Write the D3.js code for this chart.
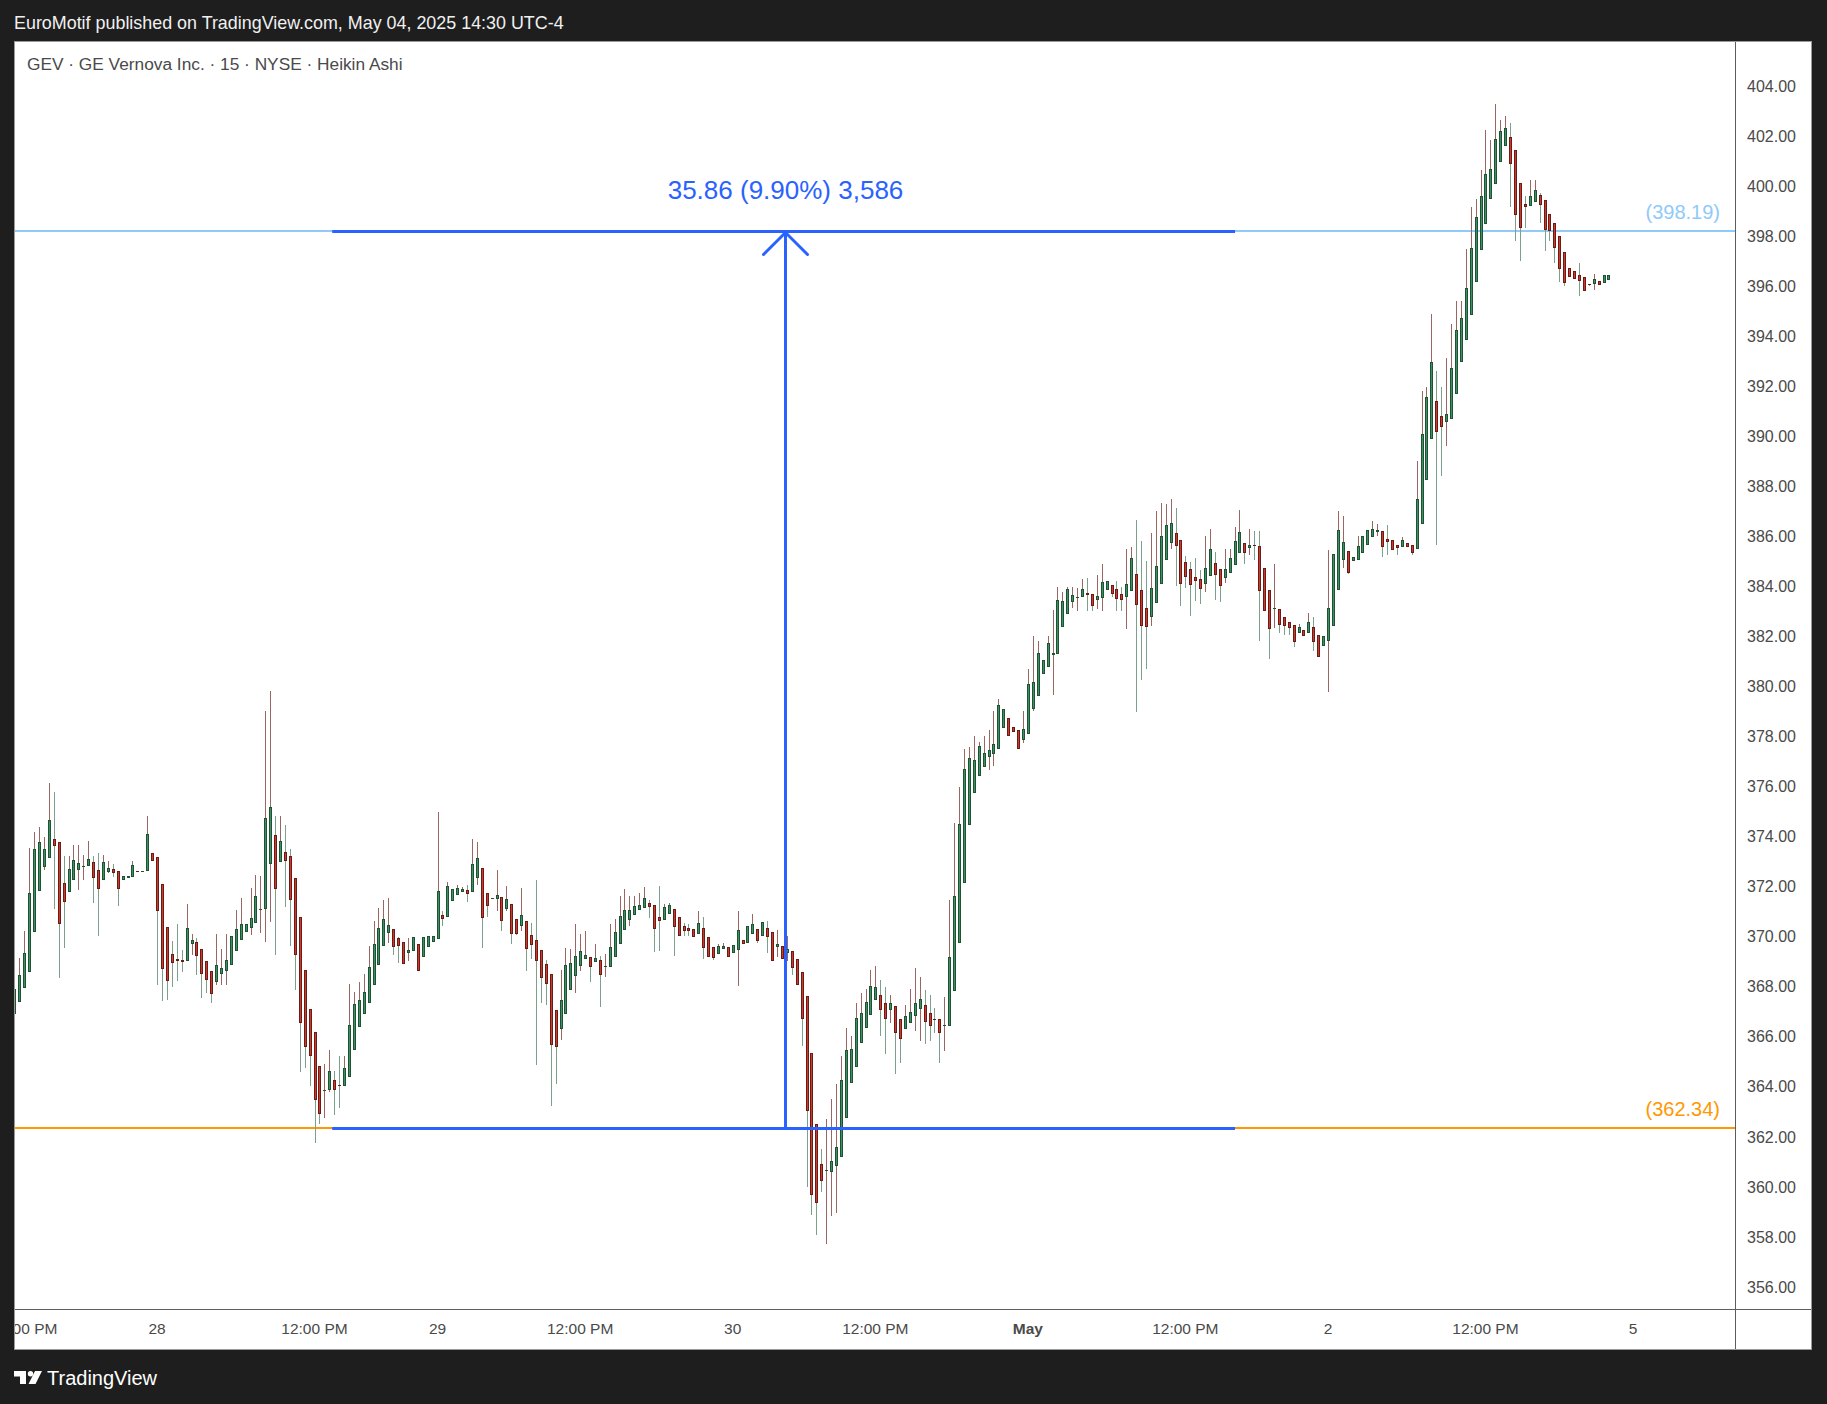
<!DOCTYPE html>
<html><head><meta charset="utf-8">
<script src="https://cdn.jsdelivr.net/npm/d3@7/dist/d3.min.js"></script>
<style>html,body{margin:0;padding:0;background:#1e1e1e;} svg{display:block;}</style>
</head><body>
<svg id="c" width="1827" height="1404"></svg>
<script>
// ---------- DATA (GEV 15m Heikin Ashi) ----------
const opens = [366.93,367.40,367.94,368.60,370.17,371.81,372.80,373.13,373.89,373.77,372.13,371.77,372.25,372.65,372.79,372.81,372.97,372.65,372.25,372.60,372.69,372.61,372.25,372.33,372.37,372.61,372.59,372.61,373.33,373.17,
372.09,370.37,369.30,369.10,369.06,369.02,369.70,369.77,369.49,369.02,368.62,368.18,368.50,368.62,368.86,369.42,369.85,370.17,370.33,370.53,371.08,371.09,372.89,374.05,372.97,373.37,373.21,372.33,370.77,368.66,
367.10,366.18,364.82,363.85,363.86,364.26,364.06,364.02,364.39,365.46,366.38,366.93,367.37,368.05,368.85,369.61,370.13,370.29,369.93,369.77,369.33,369.41,369.69,369.17,369.57,369.77,369.89,370.85,370.77,371.41,
371.65,371.77,371.85,371.77,372.33,372.73,371.73,371.52,371.49,371.57,371.09,371.29,370.69,370.41,370.61,370.05,369.85,369.45,368.89,368.49,367.09,366.33,366.93,367.89,368.41,368.81,369.09,369.17,368.97,369.05,
368.79,368.77,369.17,369.69,370.25,370.65,370.85,371.05,371.13,371.33,371.25,370.77,370.68,370.91,371.09,370.77,370.41,370.34,370.29,370.12,370.34,369.97,369.57,369.32,369.49,369.57,369.36,369.48,369.85,369.76,
370.09,370.29,370.04,370.34,370.18,369.57,369.61,369.36,369.41,369.10,368.58,367.65,365.34,362.50,360.93,360.64,360.61,360.85,361.20,362.77,364.14,364.81,365.77,366.36,366.89,367.46,367.69,367.37,367.06,367.22,
366.70,366.30,366.57,366.82,367.10,367.29,366.94,366.73,366.72,366.45,366.45,367.83,369.73,372.13,374.45,375.76,376.42,376.79,377.20,377.31,377.49,378.36,378.76,378.40,378.28,377.88,378.12,379.12,379.64,380.48,
380.76,381.24,381.28,382.36,382.88,383.36,383.52,383.56,383.72,383.68,383.44,383.52,383.84,384.04,383.88,383.68,383.56,383.80,384.48,383.84,383.12,382.76,383.32,384.08,385.04,385.72,386.12,385.84,384.96,384.68,
384.36,384.28,384.08,384.40,384.92,384.68,384.32,384.52,384.84,385.32,385.72,385.52,385.64,385.60,384.72,383.84,383.11,383.08,382.76,382.56,382.44,382.12,382.24,382.12,382.36,382.04,381.60,381.80,382.43,383.87,
385.05,385.40,385.00,385.05,385.35,385.67,385.97,386.16,386.20,385.89,385.84,385.67,385.59,385.73,385.64,385.48,386.49,388.27,389.90,391.43,390.80,390.58,390.71,391.70,392.98,393.84,394.86,396.17,397.46,398.50,
399.49,400.08,400.95,401.60,401.96,401.44,400.14,399.29,399.19,399.38,399.64,399.43,398.88,398.51,398.02,397.36,396.74,396.59,396.44,396.35,396.08,396.07,396.19,396.11,396.25];
const highs = [367.93,369.16,370.24,373.56,374.18,374.38,373.99,376.14,375.78,373.77,373.23,373.23,373.67,373.67,373.27,373.83,373.23,373.35,373.27,373.03,372.91,372.61,372.41,372.41,373.03,372.61,372.61,374.82,373.33,373.17,
372.09,370.37,369.83,370.49,369.47,371.32,370.09,369.96,369.49,369.02,368.62,370.09,369.49,370.09,370.01,371.07,371.53,370.49,371.93,372.45,372.41,379.02,379.82,374.82,374.82,374.46,373.51,372.33,370.77,368.66,
367.10,366.18,364.82,364.90,365.47,364.62,365.23,365.23,368.11,367.79,368.19,368.51,369.62,370.61,371.13,371.45,371.54,370.29,369.99,369.77,369.96,369.97,369.69,369.97,370.01,370.01,374.98,371.02,372.18,371.89,
372.06,372.00,372.06,373.90,373.78,372.73,371.73,371.54,372.66,371.57,372.02,371.29,370.69,371.94,370.61,370.53,372.26,369.45,369.06,368.49,367.09,368.66,369.54,369.50,370.49,370.10,370.22,369.17,369.69,369.21,
369.30,370.49,370.70,371.62,371.90,371.62,371.62,371.74,371.98,371.46,371.25,372.02,371.31,371.36,371.09,370.77,370.54,370.50,370.29,371.02,370.78,369.97,369.57,369.70,369.73,369.57,369.66,371.02,369.85,370.41,
370.91,370.29,370.60,370.62,370.18,370.25,369.61,370.03,369.41,369.10,368.58,367.65,365.34,362.50,361.51,362.71,363.51,364.11,365.22,366.35,366.04,367.35,367.75,367.91,368.67,368.83,368.28,368.00,367.66,367.22,
366.70,367.29,367.91,368.74,368.39,367.87,367.69,367.16,366.72,367.59,371.46,374.54,375.97,377.51,377.58,378.01,377.78,378.04,378.26,379.02,379.50,379.12,378.76,378.40,378.28,379.02,380.70,382.01,381.80,381.04,
382.01,383.05,383.97,383.77,383.97,383.97,383.93,384.29,384.33,383.68,384.45,384.89,384.20,384.04,384.21,383.97,385.49,385.57,386.65,385.81,385.01,386.13,387.01,387.33,387.29,387.49,387.13,385.84,385.21,384.97,
385.13,384.65,386.01,386.29,385.37,384.68,385.49,385.49,386.37,387.05,385.72,386.29,386.21,386.21,384.72,383.84,384.89,383.08,382.76,382.56,382.44,382.48,382.24,382.93,382.77,382.04,382.00,385.46,385.30,387.01,
386.82,385.40,385.19,386.01,386.01,386.25,386.63,386.50,386.20,386.46,385.84,385.67,385.98,385.73,385.64,389.02,391.81,391.99,394.88,392.59,391.99,393.13,394.48,395.40,395.40,397.49,399.15,399.48,400.65,402.24,
401.85,403.29,402.64,402.80,402.53,401.44,400.14,399.60,400.24,400.24,399.73,399.43,398.88,398.51,398.02,397.36,396.74,396.59,396.92,396.35,396.08,396.49,396.19,396.43,396.43];
const lows = [366.93,367.40,367.94,368.60,370.17,371.81,372.67,373.13,371.12,368.36,369.56,371.77,372.25,371.88,372.28,372.81,371.36,370.04,372.25,372.53,372.40,371.24,372.25,372.33,372.37,372.57,372.59,372.61,373.01,368.06,
367.44,367.48,368.00,368.22,368.58,369.02,369.26,368.46,367.56,367.74,367.34,368.06,368.06,368.06,368.86,369.42,369.85,370.17,370.05,370.53,370.13,369.77,370.57,369.26,372.97,371.20,369.62,367.86,364.58,364.77,
364.02,361.74,362.50,362.74,363.80,362.86,363.14,364.02,364.39,365.46,366.38,366.93,367.37,368.05,368.85,369.61,369.76,369.27,368.93,368.89,369.04,369.41,368.61,369.17,369.57,369.77,369.89,370.42,370.77,371.41,
371.65,371.77,371.37,371.77,372.05,369.53,370.77,371.52,371.04,370.24,371.04,369.72,370.05,370.21,368.64,369.09,364.88,367.36,367.28,363.24,364.12,365.89,366.93,367.89,367.77,368.61,369.09,368.17,368.97,367.20,
368.37,368.77,369.17,369.69,370.25,370.41,370.85,371.05,371.13,370.73,369.37,369.44,370.68,370.91,369.24,370.04,370.04,370.04,370.00,370.12,369.11,369.20,369.07,369.32,369.49,369.17,369.36,368.03,369.69,369.76,
370.09,369.76,370.04,369.35,369.02,369.17,369.10,369.02,368.46,368.06,365.62,360.00,358.89,358.08,359.78,357.71,358.85,358.97,361.20,362.77,364.14,364.81,365.77,366.36,366.89,367.46,366.04,365.33,366.55,364.53,
364.97,366.30,366.57,366.24,365.84,365.72,365.84,366.15,364.97,365.44,366.45,367.83,369.73,372.13,374.45,375.76,376.42,376.79,376.68,376.83,377.49,378.36,378.01,378.20,377.52,377.75,378.12,379.02,379.64,380.48,
380.76,379.67,381.28,382.36,382.88,383.15,383.03,383.56,383.03,383.03,383.08,383.03,383.84,383.59,383.03,383.03,382.31,383.80,378.99,380.27,380.71,382.43,383.32,384.08,385.04,385.51,384.01,383.21,383.92,382.81,
383.41,383.29,383.76,384.40,383.45,383.37,384.12,384.52,384.84,385.32,384.88,385.24,385.04,381.83,383.00,381.11,382.32,382.12,382.04,382.04,381.56,382.12,382.00,382.12,381.43,381.16,381.60,379.80,382.43,383.87,
384.72,384.50,385.00,385.05,385.35,385.67,385.97,386.01,385.19,385.24,385.45,385.24,385.59,385.59,385.26,385.48,386.49,388.27,389.90,385.67,388.43,389.63,390.71,391.70,392.98,393.84,394.86,396.17,397.46,398.50,
399.49,400.08,400.95,401.60,399.18,397.79,397.01,398.34,399.19,399.38,398.53,397.41,397.80,396.92,396.16,396.02,396.38,396.30,395.62,395.80,396.00,395.83,396.03,396.11,396.25];
const closes = [367.93,368.47,369.33,371.73,373.49,373.77,373.49,374.65,373.61,370.49,371.37,372.69,373.05,372.93,372.81,373.09,372.33,371.89,372.97,372.73,372.53,371.89,372.41,372.41,372.85,372.57,372.61,374.09,373.01,371.01,
368.70,368.22,368.94,369.02,368.98,370.33,369.85,369.22,368.50,368.26,367.70,368.86,368.74,369.06,370.01,370.29,370.49,370.49,370.73,371.61,371.10,374.73,375.17,371.89,373.81,373.01,371.45,369.26,366.54,365.58,
365.22,363.46,362.90,363.87,364.62,363.86,364.02,364.74,366.49,367.33,367.49,367.81,368.77,369.70,370.33,370.69,370.46,369.57,369.61,368.89,369.45,369.97,368.61,369.97,370.01,370.01,371.82,370.69,372.01,371.89,
371.93,371.89,371.69,372.89,373.13,370.73,371.21,371.54,371.65,370.61,371.49,370.09,370.09,370.85,369.49,369.65,369.01,368.33,368.09,365.69,365.61,367.49,368.85,368.93,369.21,369.41,369.25,368.77,369.13,368.45,
368.81,369.57,370.17,370.81,371.05,371.05,371.21,371.25,371.53,371.17,370.29,370.61,371.18,371.27,370.40,370.04,370.23,370.23,370.00,370.53,369.55,369.20,369.13,369.61,369.61,369.17,369.66,370.25,369.69,370.41,
370.50,369.81,370.60,369.97,369.02,369.70,369.10,369.49,368.73,368.06,366.73,363.02,359.66,359.37,360.25,360.67,361.05,361.61,364.29,365.49,365.53,366.75,366.97,367.38,368.02,367.99,367.06,366.73,367.35,366.17,
365.92,366.85,367.01,367.37,367.53,366.58,366.45,366.71,366.14,366.47,369.17,371.61,374.52,376.71,377.13,377.05,377.61,377.36,377.45,377.69,379.28,379.12,378.01,378.20,377.52,378.32,380.08,380.16,381.32,381.04,
381.72,381.32,383.44,383.40,383.88,383.64,383.56,383.88,383.64,383.20,383.60,384.16,384.20,383.68,383.48,383.44,384.08,385.12,383.24,382.40,382.36,383.92,384.80,386.00,386.44,386.52,385.60,384.08,384.36,384.04,
384.20,383.88,384.72,385.48,384.44,384.00,384.68,385.12,385.80,386.16,385.32,385.64,385.60,383.80,383.00,382.28,383.13,382.44,382.40,382.32,381.76,382.36,382.00,382.56,381.76,381.16,382.00,383.14,385.30,386.25,
385.78,384.55,385.19,385.62,386.01,386.25,386.31,386.25,385.56,385.78,385.45,385.54,385.84,385.59,385.32,387.48,390.09,391.56,392.95,390.19,390.39,390.90,392.71,394.25,394.72,395.92,397.52,398.77,399.60,400.49,
400.68,401.88,402.20,402.32,400.90,398.86,398.34,399.15,399.60,399.84,399.26,398.26,398.20,397.52,396.67,396.14,396.38,396.30,396.22,395.80,396.03,396.30,396.03,396.43,396.43];

const priceTicks = d3.range(356, 404.001, 2);
const timeTickBars   = [2, 29, 61, 86, 115, 146, 175, 206, 238, 267, 299, 329];
const timeTickLabels = ["12:00 PM","28","12:00 PM","29","12:00 PM","30","12:00 PM","May","12:00 PM","2","12:00 PM","5"];

const measureBars   = [64.6, 248.1];   // start / end bar of price-range tool
const measureArrowBar = 156.6;
const measurePrices = [362.34, 398.19];
const measureText = "35.86 (9.90%) 3,586";

const levelPrices = [398.19, 362.34];
const levelLabels = ["(398.19)", "(362.34)"];
const levelColors = ["#90caf9", "#ff9800"];

const headerText = "EuroMotif published on TradingView.com, May 04, 2025 14:30 UTC-4";
const titleText = "GEV · GE Vernova Inc. · 15 · NYSE · Heikin Ashi";

// ---------- LAYOUT ----------
const W = 1827, H = 1404;
const panel = {l: 14, t: 41, r: 1812, b: 1350};
const plot = {l: 15, t: 41, r: 1735, b: 1309};
const FONT = "'Liberation Sans', Arial, sans-serif";

const svg = d3.select("#c");
svg.append("rect").attr("width", W).attr("height", H).attr("fill", "#1e1e1e");
svg.append("rect").attr("x", panel.l).attr("y", panel.t).attr("width", panel.r - panel.l).attr("height", panel.b - panel.t)
  .attr("fill", "#ffffff");

const x = d3.scaleLinear().domain([0, 324]).range([14.38, 14.38 + 324 * 4.92]);
const y = d3.scaleLinear().domain([356, 404]).range([1287, 86]);

const defs = svg.append("defs");
defs.append("clipPath").attr("id", "plotClip").append("rect")
  .attr("x", plot.l).attr("y", plot.t).attr("width", plot.r - plot.l).attr("height", plot.b - plot.t);
defs.append("clipPath").attr("id", "xClip").append("rect")
  .attr("x", plot.l).attr("y", plot.b).attr("width", plot.r - plot.l).attr("height", panel.b - plot.b);

// level lines (full width)
const gl = svg.append("g").attr("clip-path", "url(#plotClip)");
levelPrices.forEach((p, i) => {
  const yy = Math.round(y(p));
  gl.append("line").attr("x1", plot.l).attr("x2", plot.r).attr("y1", yy).attr("y2", yy)
    .attr("stroke", levelColors[i]).attr("stroke-width", 2);
});

// candles
const colUp = {fill: "#3f8f61", border: "#1d5235", wick: "#9a6661"};
const colDn = {fill: "#c93b2d", border: "#6b1b14", wick: "#7da08d"};
const gc = svg.append("g").attr("clip-path", "url(#plotClip)");
opens.forEach((o, i) => {
  const c = closes[i], h = highs[i], l = lows[i];
  const up = c >= o;
  const col = up ? colUp : colDn;
  const cx = Math.round(x(i));
  const yH = Math.round(y(h)), yL = Math.round(y(l));
  const yT = Math.round(y(Math.max(o, c))), yB = Math.round(y(Math.min(o, c)));
  if (yL - yH > 0) gc.append("rect").attr("x", cx).attr("y", yH).attr("width", 1).attr("height", yL - yH).attr("fill", col.wick);
  const bh = Math.max(1, yB - yT);
  gc.append("rect").attr("x", cx - 1).attr("y", yT).attr("width", 3).attr("height", bh).attr("fill", col.border);
  if (bh > 2) gc.append("rect").attr("x", cx).attr("y", yT + 1).attr("width", 1).attr("height", bh - 2).attr("fill", col.fill);
});

// measurement tool
const gm = svg.append("g").attr("clip-path", "url(#plotClip)");
const blue = "#2962ff";
measurePrices.forEach(p => {
  const yy = Math.round(y(p)) + 0.5;
  gm.append("line").attr("x1", x(measureBars[0])).attr("x2", x(measureBars[1])).attr("y1", yy).attr("y2", yy)
    .attr("stroke", blue).attr("stroke-width", 3);
});
const ax = Math.round(x(measureArrowBar)) + 0.5, yTop = Math.round(y(measurePrices[1])) + 0.5, yBot = Math.round(y(measurePrices[0])) + 0.5;
gm.append("line").attr("x1", ax).attr("x2", ax).attr("y1", yBot).attr("y2", yTop + 1)
  .attr("stroke", blue).attr("stroke-width", 3);
gm.append("path").attr("d", `M${ax - 22},${yTop + 23} L${ax},${yTop + 1} L${ax + 22},${yTop + 23}`)
  .attr("fill", "none").attr("stroke", blue).attr("stroke-width", 3).attr("stroke-linecap", "round");
gm.append("text").attr("x", ax).attr("y", yTop - 33).attr("text-anchor", "middle")
  .attr("font-family", FONT).attr("font-size", 26).attr("fill", blue).text(measureText);

// level labels
levelPrices.forEach((p, i) => {
  svg.append("text").attr("x", 1720).attr("y", y(p) - 12).attr("text-anchor", "end")
    .attr("font-family", FONT).attr("font-size", 20).attr("fill", levelColors[i]).text(levelLabels[i]);
});

// axes separators
svg.append("line").attr("x1", plot.r + 0.5).attr("x2", plot.r + 0.5).attr("y1", panel.t).attr("y2", panel.b)
  .attr("stroke", "#5d5d5d").attr("stroke-width", 1);
svg.append("line").attr("x1", panel.l).attr("x2", panel.r).attr("y1", plot.b + 0.5).attr("y2", plot.b + 0.5)
  .attr("stroke", "#5d5d5d").attr("stroke-width", 1);
svg.append("rect").attr("x", panel.l + 0.5).attr("y", panel.t + 0.5).attr("width", panel.r - panel.l - 1).attr("height", panel.b - panel.t - 1)
  .attr("fill", "none").attr("stroke", "#9a9a9a").attr("stroke-width", 1);

// y axis labels
const yAxis = d3.axisRight(y).tickValues(priceTicks).tickSize(0).tickPadding(0).tickFormat(d3.format(".2f"));
const gy = svg.append("g").attr("transform", `translate(1747,0)`).call(yAxis);
gy.select(".domain").remove();
gy.selectAll("text").attr("font-family", FONT).attr("font-size", 16).attr("fill", "#4a4a4a");

// x axis labels (first one is clipped at the left edge, as in the original)
const gx = svg.append("g").attr("clip-path", "url(#xClip)");
timeTickBars.forEach((b, i) => {
  gx.append("text").attr("x", x(b)).attr("y", 1334).attr("text-anchor", "middle")
    .attr("font-family", FONT).attr("font-size", 15.5).attr("fill", "#4a4a4a")
    .attr("font-weight", timeTickLabels[i] === "May" ? "bold" : "normal")
    .text(timeTickLabels[i]);
});

// header / title / footer
svg.append("text").attr("x", 14).attr("y", 28.5).attr("font-family", FONT).attr("font-size", 17.9)
  .attr("fill", "#f0f0f0").text(headerText);
svg.append("text").attr("x", 27).attr("y", 70).attr("font-family", FONT).attr("font-size", 17.3)
  .attr("fill", "#4a4a4a").text(titleText);

const logo = svg.append("g").attr("transform", "translate(14,1371)").attr("fill", "#ffffff");
logo.append("path").attr("d", "M0,0 H12 V13 H6 V5.5 H0 Z");
logo.append("circle").attr("cx", 16.5).attr("cy", 2.7).attr("r", 2.7);
logo.append("path").attr("d", "M21,0 H28 L21.5,13 H14.5 Z");
svg.append("text").attr("x", 47).attr("y", 1384.5).attr("font-family", FONT).attr("font-size", 20)
  .attr("fill", "#ffffff").text("TradingView");
</script>
</body></html>
